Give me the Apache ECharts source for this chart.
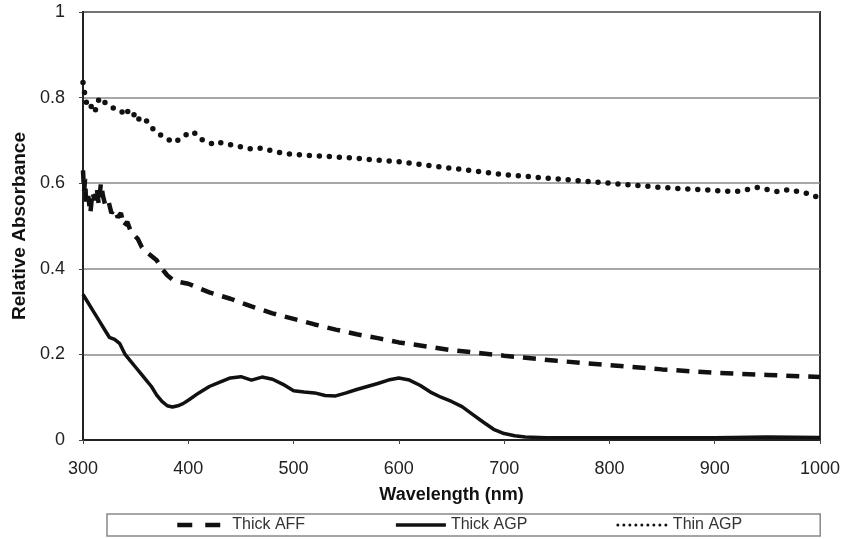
<!DOCTYPE html>
<html>
<head>
<meta charset="utf-8">
<script src="https://cdn.jsdelivr.net/npm/echarts@6/dist/echarts.min.js"></script>
<style>
  html, body { margin: 0; padding: 0; background: #fff; }
  #chart { width: 841px; height: 539px; }
</style>
</head>
<body>
<div id="chart"></div>
<script>
  // wavelengths (nm) and relative absorbance
  var affX = [300, 301, 302, 303, 305, 307, 309, 311, 313, 315, 317, 319, 321, 324, 327, 330, 333, 336, 339, 342, 345, 348, 352, 356, 360, 365, 370, 375, 380, 385, 390, 400, 410, 420, 440, 460, 480, 500, 520, 540, 560, 580, 600, 650, 700, 750, 800, 850, 900, 950, 1000];
  var affY = [0.63, 0.58, 0.61, 0.55, 0.57, 0.53, 0.58, 0.56, 0.59, 0.55, 0.60, 0.57, 0.55, 0.56, 0.53, 0.54, 0.52, 0.53, 0.50, 0.51, 0.49, 0.48, 0.47, 0.45, 0.44, 0.43, 0.42, 0.40, 0.385, 0.375, 0.37, 0.365, 0.355, 0.345, 0.33, 0.312, 0.296, 0.283, 0.27, 0.258, 0.247, 0.238, 0.228, 0.21, 0.197, 0.185, 0.175, 0.165, 0.157, 0.152, 0.147];

  var thickAgpX = [300, 305, 310, 315, 320, 325, 330, 335, 340, 345, 350, 355, 360, 365, 370, 375, 380, 385, 390, 395, 400, 410, 420, 430, 440, 450, 460, 470, 480, 490, 500, 510, 520, 530, 540, 550, 560, 570, 580, 590, 600, 610, 620, 630, 640, 650, 660, 670, 680, 690, 700, 710, 720, 740, 800, 900, 950, 1000];
  var thickAgpY = [0.34, 0.32, 0.30, 0.28, 0.26, 0.24, 0.235, 0.225, 0.20, 0.185, 0.17, 0.155, 0.14, 0.125, 0.105, 0.09, 0.08, 0.077, 0.08, 0.085, 0.093, 0.11, 0.125, 0.135, 0.145, 0.148, 0.14, 0.147, 0.142, 0.13, 0.115, 0.112, 0.11, 0.104, 0.103, 0.11, 0.118, 0.125, 0.132, 0.14, 0.145, 0.14, 0.128, 0.112, 0.10, 0.09, 0.078, 0.06, 0.042, 0.025, 0.015, 0.01, 0.007, 0.005, 0.005, 0.005, 0.007, 0.006];

  var thinAgpX = [300, 301, 302, 303, 305, 307, 309, 311, 313, 315, 317, 320, 323, 326, 329, 332, 335, 338, 341, 344, 347, 350, 353, 356, 359, 362, 365, 370, 375, 380, 385, 390, 395, 400, 405, 410, 415, 420, 425, 430, 440, 450, 460, 470, 480, 490, 500, 550, 600, 650, 700, 750, 800, 850, 900, 920, 930, 940, 950, 960, 970, 980, 990, 1000];
  var thinAgpY = [0.835, 0.82, 0.80, 0.79, 0.78, 0.785, 0.77, 0.765, 0.78, 0.795, 0.80, 0.79, 0.785, 0.78, 0.775, 0.77, 0.77, 0.765, 0.775, 0.76, 0.755, 0.765, 0.75, 0.745, 0.75, 0.74, 0.73, 0.72, 0.71, 0.705, 0.695, 0.70, 0.71, 0.715, 0.72, 0.705, 0.70, 0.695, 0.69, 0.695, 0.69, 0.685, 0.68, 0.682, 0.675, 0.67, 0.667, 0.66, 0.65, 0.635, 0.62, 0.61, 0.60, 0.59, 0.583, 0.58, 0.585, 0.59, 0.585, 0.58, 0.585, 0.58, 0.575, 0.565];

  function pairs(xs, ys) {
    return xs.map(function(x, i) { return [x, ys[i]]; });
  }

  var chart = echarts.init(document.getElementById('chart'));
  var font = 'Liberation Sans, Arial, sans-serif';

  chart.setOption({
    backgroundColor: '#fff',
    animation: false,
    grid: {
      left: 83, right: 21, top: 12, bottom: 99,
      containLabel: false, outerBoundsMode: 'none',
      show: true, borderColor: '#333', borderWidth: 2, backgroundColor: 'transparent'
    },
    legend: {
      left: 107, bottom: 3,
      padding: [3, 78, 3, 68],
      itemGap: 89,
      itemWidth: 50, itemHeight: 14,
      borderColor: '#888', borderWidth: 1.5,
      itemStyle: { opacity: 0 },
      textStyle: { fontFamily: font, fontSize: 16, color: '#333' },
      data: [
        { name: 'Thick AFF', lineStyle: { type: [15, 13], width: 4.5 } },
        { name: 'Thick AGP', lineStyle: { width: 3.5 } },
        { name: 'Thin AGP', lineStyle: { type: [0, 6], width: 3, cap: 'round' } }
      ]
    },
    xAxis: {
      type: 'value', min: 300, max: 1000, interval: 100,
      name: 'Wavelength (nm)', nameLocation: 'middle', nameGap: 46,
      nameTextStyle: { fontFamily: font, fontSize: 18, fontWeight: 'bold', color: '#111' },
      axisLine: { lineStyle: { color: '#222', width: 2 } },
      axisTick: { show: true, length: 4, inside: false, lineStyle: { color: '#444' } },
      axisLabel: { fontFamily: font, fontSize: 18, color: '#222', margin: 20,
        formatter: function(v) { return String(v); } },
      splitLine: { show: false }
    },
    yAxis: {
      type: 'value', min: 0, max: 1, interval: 0.2,
      name: 'Relative Absorbance', nameLocation: 'middle', nameGap: 50,
      nameTextStyle: { fontFamily: font, fontSize: 19, fontWeight: 'bold', color: '#111' },
      axisLine: { show: true, lineStyle: { color: '#222', width: 2 } },
      axisTick: { show: true, length: 4, lineStyle: { color: '#444' } },
      axisLabel: { fontFamily: font, fontSize: 18, color: '#222', margin: 18 },
      splitLine: { show: true, lineStyle: { color: '#8a8a8a', width: 1.5 } }
    },
    series: [
      {
        name: 'Thick AFF', type: 'line', showSymbol: false, symbol: 'none',
        data: pairs(affX, affY),
        lineStyle: { color: '#111', width: 4.5, type: [13, 9] },
        itemStyle: { color: '#111' }
      },
      {
        name: 'Thick AGP', type: 'line', showSymbol: false, symbol: 'none',
        data: pairs(thickAgpX, thickAgpY),
        lineStyle: { color: '#111', width: 3.5 },
        itemStyle: { color: '#111' }
      },
      {
        name: 'Thin AGP', type: 'line', showSymbol: false, symbol: 'none',
        data: pairs(thinAgpX, thinAgpY),
        lineStyle: { color: '#111', width: 5.5, type: [0, 10], cap: 'round' },
        itemStyle: { color: '#111' }
      }
    ]
  });
</script>
</body>
</html>
